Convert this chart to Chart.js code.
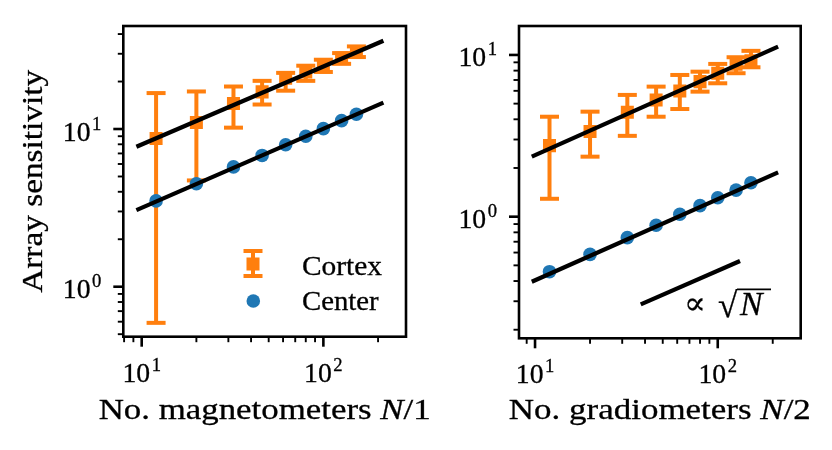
<!DOCTYPE html>
<html>
<head>
<meta charset="utf-8">
<script src="https://cdn.jsdelivr.net/npm/chart.js@4.4.1/dist/chart.umd.min.js"></script>
<style>
  body { margin: 0; background: #fff; }
  #wrap { position: relative; width: 832px; height: 450px; }
  canvas { position: absolute; top: 0; }
  #magChart { left: 0; }
  #gradChart { left: 416px; }
</style>
</head>
<body>
<div id="wrap">
  <canvas id="magChart" width="440" height="450"></canvas>
  <canvas id="gradChart" width="416" height="450"></canvas>
</div>
<script>
// number of sensors N (same steps in both panels)
const sensorCounts = [12, 20, 32, 46, 62, 80, 100, 126, 152]

// left panel: magnetometers
const magCenter = [3.5, 4.5, 5.75, 6.8, 7.95, 9.0, 10.05, 11.3, 12.4]
const magCortex = [8.7, 11.0, 14.5, 17.2, 21.0, 23.0, 25.2, 28.2, 31.0]
const magCortexLow = [0.59, 4.72, 10.2, 14.3, 17.5, 20.2, 23.0, 25.9, 28.6]
const magCortexHigh = [16.9, 17.3, 18.6, 20.2, 22.7, 25.2, 27.5, 30.3, 33.4]
const magFitX = [9.35, 214]
const magFitCenter = [3.06, 14.7]
const magFitCortex = [7.72, 36.3]

// right panel: gradiometers
const gradCenter = [0.457, 0.585, 0.742, 0.885, 1.035, 1.17, 1.31, 1.46, 1.62]
const gradCortex = [2.75, 3.36, 4.42, 5.27, 5.99, 6.84, 7.71, 8.76, 9.22]
const gradCortexLow = [1.29, 2.35, 3.16, 4.15, 4.63, 5.93, 6.68, 7.71, 8.39]
const gradCortexHigh = [4.15, 4.46, 5.66, 6.37, 7.52, 7.88, 8.80, 9.68, 10.6]
const gradFitX = [9.6, 214]
const gradFitCenter = [0.396, 1.88]
const gradFitCortex = [2.35, 11.25]
const sqrtRefX = [37.9, 132.4]
const sqrtRefY = [0.287, 0.532]

// decade tick labels 10^k
const xTickExps = [1, 2]
const yTickExps = [0, 1]

const orange = '#ff7f0e'
const blue = '#1f77b4'
const serif = '"Liberation Serif", "DejaVu Serif", serif'
const textStroke = 0.3

function setFont(ctx, size, italic) {
  ctx.font = (italic ? 'italic ' : '') + size.toFixed(2) + 'px ' + serif
}

// font size giving a wanted glyph height (works whatever serif is picked)
const ratioCache = {}
function sizeFor(ctx, height, ch, italic) {
  const key = ch + (italic ? 'i' : 'r')
  if (!ratioCache[key]) {
    ctx.save()
    setFont(ctx, 100, italic)
    ratioCache[key] = ctx.measureText(ch).actualBoundingBoxAscent / 100
    ctx.restore()
  }
  return height / ratioCache[key]
}

function paintText(ctx, t, x, y) {
  ctx.fillText(t, x, y)
  ctx.strokeText(t, x, y)
}

// text made of plain / italic runs, sized by cap height, stretched to a width
function drawRich(ctx, parts, x, y, cap, width, align) {
  ctx.save()
  ctx.textAlign = 'left'
  ctx.textBaseline = 'alphabetic'
  ctx.lineWidth = textStroke
  ctx.strokeStyle = ctx.fillStyle
  const size = sizeFor(ctx, cap, 'H', false)
  let natural = 0
  parts.forEach(p => { setFont(ctx, size, p.it); natural += ctx.measureText(p.t).width })
  const sx = width ? width / natural : 1
  const w = natural * sx
  const x0 = align === 'center' ? x - w / 2 : align === 'right' ? x - w : x
  ctx.translate(x0, y)
  ctx.scale(sx, 1)
  let cx = 0
  parts.forEach(p => {
    setFont(ctx, size, p.it)
    paintText(ctx, p.t, cx, 0)
    cx += ctx.measureText(p.t).width
  })
  ctx.restore()
}

function drawPow(ctx, exp, x, y, align) {
  ctx.save()
  ctx.textAlign = 'left'
  ctx.textBaseline = 'alphabetic'
  ctx.lineWidth = textStroke
  ctx.strokeStyle = ctx.fillStyle
  const big = sizeFor(ctx, 18.3, '1'), small = sizeFor(ctx, 12.3, '1')
  setFont(ctx, big); const wb = ctx.measureText('10').width
  setFont(ctx, small); const we = ctx.measureText(String(exp)).width
  const w = wb + 1.5 + we
  const x0 = align === 'center' ? x - w / 2 : x - w
  setFont(ctx, big); paintText(ctx, '10', x0, y)
  setFont(ctx, small); paintText(ctx, String(exp), x0 + wb + 1.5, y - 11)
  ctx.restore()
}

function logTicks(min, max) {
  const major = [], minor = []
  for (let d = Math.floor(Math.log10(min)); d <= Math.ceil(Math.log10(max)); d++) {
    for (let m = 1; m < 10; m++) {
      const v = m * Math.pow(10, d)
      if (v < min || v > max) continue
      if (m === 1) major.push(v); else minor.push(v)
    }
  }
  return { major, minor }
}

function line(ctx, x1, y1, x2, y2) {
  ctx.beginPath(); ctx.moveTo(x1, y1); ctx.lineTo(x2, y2); ctx.stroke()
}

function makePanel(id, p) {
  const errorBars = {
    id: 'errorBars',
    beforeDatasetsDraw(chart) {
      const ctx = chart.ctx, xs = chart.scales.x, ys = chart.scales.y
      ctx.save()
      ctx.strokeStyle = orange
      ctx.lineWidth = 4
      sensorCounts.forEach((n, i) => {
        const x = xs.getPixelForValue(n)
        const lo = ys.getPixelForValue(p.cortexLow[i])
        const hi = ys.getPixelForValue(p.cortexHigh[i])
        line(ctx, x, lo, x, hi)
        line(ctx, x - 9.5, lo, x + 9.5, lo)
        line(ctx, x - 9.5, hi, x + 9.5, hi)
      })
      ctx.restore()
    }
  }

  const frame = {
    id: 'frame',
    afterDraw(chart) {
      const ctx = chart.ctx
      const { left, right, top, bottom } = chart.chartArea
      const xs = chart.scales.x, ys = chart.scales.y
      ctx.save()
      ctx.strokeStyle = '#000'
      ctx.fillStyle = '#000'
      ctx.lineWidth = 2.6
      ctx.strokeRect(left, top, right - left, bottom - top)

      const xt = logTicks(xs.min, xs.max), yt = logTicks(ys.min, ys.max)
      ctx.lineWidth = 1.9
      xt.minor.forEach(v => { const x = xs.getPixelForValue(v); line(ctx, x, bottom, x, bottom + 5.5) })
      yt.minor.forEach(v => { const y = ys.getPixelForValue(v); line(ctx, left, y, left - 5.5, y) })
      ctx.lineWidth = 2.6
      xt.major.forEach(v => { const x = xs.getPixelForValue(v); line(ctx, x, bottom, x, bottom + 10) })
      yt.major.forEach(v => { const y = ys.getPixelForValue(v); line(ctx, left, y, left - 10, y) })

      xTickExps.forEach(k => drawPow(ctx, k, xs.getPixelForValue(Math.pow(10, k)), bottom + 45, 'center'))
      yTickExps.forEach(k => drawPow(ctx, k, left - 22, ys.getPixelForValue(Math.pow(10, k)) + 11.5, 'right'))

      drawRich(ctx, p.xTitle, (left + right) / 2, 418.5, 19, p.xTitleWidth, 'center')
      if (p.extra) p.extra(ctx, chart)
      ctx.restore()
    }
  }

  const datasets = [
    { data: p.fitX.map((x, i) => ({ x, y: p.fitCortex[i] })), showLine: true, borderColor: '#000',
      borderWidth: 4.2, pointRadius: 0, order: 0 },
    { data: p.fitX.map((x, i) => ({ x, y: p.fitCenter[i] })), showLine: true, borderColor: '#000',
      borderWidth: 4.2, pointRadius: 0, order: 0 },
    { label: 'Center', data: sensorCounts.map((x, i) => ({ x, y: p.center[i] })), backgroundColor: blue,
      pointRadius: 6.8, pointBorderWidth: 0, order: 1 },
    { label: 'Cortex', data: sensorCounts.map((x, i) => ({ x, y: p.cortex[i] })), backgroundColor: orange,
      pointStyle: 'rect', pointRadius: 9.2, pointBorderWidth: 0, order: 2 }
  ]
  if (p.refX) {
    datasets.push({ data: p.refX.map((x, i) => ({ x, y: p.refY[i] })), showLine: true, borderColor: '#000',
      borderWidth: 4.2, pointRadius: 0, order: 0 })
  }

  return new Chart(document.getElementById(id).getContext('2d'), {
    type: 'scatter',
    data: { datasets },
    options: {
      responsive: false,
      animation: false,
      events: [],
      layout: { padding: p.padding },
      plugins: { legend: { display: false }, tooltip: { enabled: false } },
      scales: {
        x: {
          type: 'logarithmic', min: p.xMin, max: p.xMax,
          ticks: { display: false }, grid: { display: false }, border: { display: false },
          afterFit: s => { s.height = p.xAxisHeight }
        },
        y: {
          type: 'logarithmic', min: p.yMin, max: p.yMax,
          ticks: { display: false }, grid: { display: false }, border: { display: false },
          afterFit: s => { s.width = p.yAxisWidth }
        }
      }
    },
    plugins: [errorBars, frame]
  })
}

makePanel('magChart', {
  center: magCenter, cortex: magCortex, cortexLow: magCortexLow, cortexHigh: magCortexHigh,
  fitX: magFitX, fitCenter: magFitCenter, fitCortex: magFitCortex,
  xMin: 7.92, xMax: 285, yMin: 0.482, yMax: 45,
  padding: { left: 0, top: 26, right: 34, bottom: 0 },
  yAxisWidth: 123.3, xAxisHeight: 113.3,
  xTitle: [{ t: 'No. magnetometers ' }, { t: 'N', it: true }, { t: '/1' }], xTitleWidth: 332,
  extra(ctx, chart) {
    // y axis title
    ctx.save()
    ctx.translate(41.5, (chart.chartArea.top + chart.chartArea.bottom) / 2)
    ctx.rotate(-Math.PI / 2)
    drawRich(ctx, [{ t: 'Array sensitivity' }], 0, 0, 19.5, 223, 'center')
    ctx.restore()
    // legend
    ctx.save()
    ctx.strokeStyle = orange
    ctx.fillStyle = orange
    ctx.lineWidth = 4
    line(ctx, 253, 251, 253, 276)
    line(ctx, 243.5, 251, 262.5, 251)
    line(ctx, 243.5, 276, 262.5, 276)
    ctx.fillRect(246.5, 257.5, 13, 13)
    ctx.fillStyle = blue
    ctx.beginPath(); ctx.arc(253.3, 301, 6.8, 0, Math.PI * 2); ctx.fill()
    ctx.fillStyle = '#000'
    drawRich(ctx, [{ t: 'Cortex' }], 302, 275, 17.8, 80, 'left')
    drawRich(ctx, [{ t: 'Center' }], 302, 310, 17.8, 76.7, 'left')
    ctx.restore()
  }
})

makePanel('gradChart', {
  center: gradCenter, cortex: gradCortex, cortexLow: gradCortexLow, cortexHigh: gradCortexHigh,
  fitX: gradFitX, fitCenter: gradFitCenter, fitCortex: gradFitCortex,
  refX: sqrtRefX, refY: sqrtRefY,
  xMin: 8.17, xMax: 284.5, yMin: 0.177, yMax: 15.1,
  padding: { left: 0, top: 26, right: 31.3, bottom: 0 },
  yAxisWidth: 103, xAxisHeight: 111.7,
  xTitle: [{ t: 'No. gradiometers ' }, { t: 'N', it: true }, { t: '/2' }], xTitleWidth: 302,
  extra(ctx) {
    // proportional-to-sqrt(N) note
    ctx.save()
    ctx.fillStyle = '#000'
    ctx.strokeStyle = '#000'
    ctx.lineWidth = textStroke
    ctx.textBaseline = 'alphabetic'
    setFont(ctx, 32)
    paintText(ctx, '\u221D', 268, 314)
    // radical sized so its top meets the overline
    const base = 318, topY = 288.5
    setFont(ctx, 30)
    const m = ctx.measureText('\u221A')
    const size = 30 * (base - topY) / Math.max(1, m.actualBoundingBoxAscent + m.actualBoundingBoxDescent)
    setFont(ctx, size)
    const m2 = ctx.measureText('\u221A')
    const rx = 302
    paintText(ctx, '\u221A', rx, base - m2.actualBoundingBoxDescent)
    const rRight = rx + m2.actualBoundingBoxRight
    setFont(ctx, sizeFor(ctx, 22, 'N', true), true)
    paintText(ctx, 'N', rRight + 2, 315)
    ctx.lineWidth = 1.8
    line(ctx, rRight - 1, topY + 0.9, 355, topY + 0.9)
    ctx.restore()
  }
})
</script>
</body>
</html>
